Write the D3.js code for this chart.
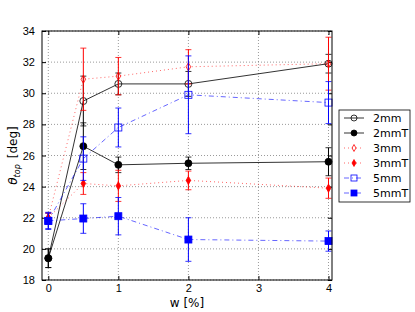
<!DOCTYPE html>
<html>
<head>
<meta charset="utf-8">
<script src="https://cdn.jsdelivr.net/npm/d3@7"></script>
<style>
  body { margin: 0; background: #fff; }
  svg { font-family: "DejaVu Sans", sans-serif; }
</style>
</head>
<body>
<div id="chart"></div>
<script>
// Data
const wValues = [0, 0.5, 1, 2, 4];
const xTicks = [0, 1, 2, 3, 4];
const yTicks = [18, 20, 22, 24, 26, 28, 30, 32, 34];

const s2mm   = [19.4, 29.5, 30.6, 30.6, 31.9];
const e2mm   = [0.6, 1.6, 0.7, 0.8, 0.6];
const s2mmT  = [19.4, 26.6, 25.4, 25.5, 25.6];
const e2mmT  = [0.6, 1.5, 0.5, 0.4, 0.9];
const s3mm   = [22.0, 30.9, 31.1, 31.7, 31.9];
const e3mm   = [0.3, 2.0, 1.2, 1.1, 1.7];
const s3mmT  = [22.0, 24.2, 24.05, 24.4, 23.9];
const e3mmT  = [0.3, 0.7, 1.0, 0.6, 0.65];
const s5mm   = [21.8, 25.8, 27.8, 29.9, 29.4];
const e5mm   = [0.5, 1.4, 1.25, 2.5, 1.35];
const s5mmT  = [21.8, 21.95, 22.1, 20.6, 20.5];
const e5mmT  = [0.55, 0.95, 1.2, 1.4, 0.65];

const seriesNames = ["2mm", "2mmT", "3mm", "3mmT", "5mm", "5mmT"];

const series = [
  { vals: s2mm,  errs: e2mm,  color: "black", dash: null,      marker: "circle",  filled: false },
  { vals: s2mmT, errs: e2mmT, color: "black", dash: null,      marker: "circle",  filled: true },
  { vals: s3mm,  errs: e3mm,  color: "red",   dash: "1,3",     marker: "diamond", filled: false },
  { vals: s3mmT, errs: e3mmT, color: "red",   dash: "1,3",     marker: "diamond", filled: true },
  { vals: s5mm,  errs: e5mm,  color: "blue",  dash: "5,3,1,3", marker: "square",  filled: false },
  { vals: s5mmT, errs: e5mmT, color: "blue",  dash: "5,3,1,3", marker: "square",  filled: true }
];

const width = 415, height = 312;
const mLeft = 42, mRight = 332, mTop = 31, mBottom = 280;

const svg = d3.select("#chart").append("svg")
  .attr("width", width).attr("height", height);

const x = d3.scaleLinear().domain([-0.09, 4.05]).range([mLeft, mRight]);
const y = d3.scaleLinear().domain([18, 34]).range([mBottom, mTop]);

// grid
svg.append("g").selectAll("line").data(xTicks).enter().append("line")
  .attr("x1", d => x(d)).attr("x2", d => x(d))
  .attr("y1", mTop).attr("y2", mBottom)
  .attr("stroke", "#555").attr("stroke-width", 0.6).attr("stroke-dasharray", "1,2");
svg.append("g").selectAll("line").data(yTicks).enter().append("line")
  .attr("x1", mLeft).attr("x2", mRight)
  .attr("y1", d => y(d)).attr("y2", d => y(d))
  .attr("stroke", "#555").attr("stroke-width", 0.6).attr("stroke-dasharray", "1,2");

// axes (ticks inward)
svg.append("g").attr("transform", `translate(0,${mBottom})`)
  .call(d3.axisBottom(x).tickValues(xTicks).tickFormat(d3.format("d"))
    .tickSizeInner(-4).tickSizeOuter(0).tickPadding(4))
  .call(g => g.select(".domain").remove())
  .call(g => g.selectAll("text").attr("font-size", 11).attr("fill", "#000"));
svg.append("g").attr("transform", `translate(0,${mTop})`)
  .call(d3.axisTop(x).tickValues(xTicks).tickSizeInner(-4).tickSizeOuter(0).tickFormat(""))
  .call(g => g.select(".domain").remove());
svg.append("g").attr("transform", `translate(${mLeft},0)`)
  .call(d3.axisLeft(y).tickValues(yTicks).tickSizeInner(-4).tickSizeOuter(0).tickPadding(7))
  .call(g => g.select(".domain").remove())
  .call(g => g.selectAll("text").attr("font-size", 11).attr("fill", "#000"));
svg.append("g").attr("transform", `translate(${mRight},0)`)
  .call(d3.axisRight(y).tickValues(yTicks).tickSizeInner(-4).tickSizeOuter(0).tickFormat(""))
  .call(g => g.select(".domain").remove());

const line = d3.line().x((d, i) => x(wValues[i])).y(d => y(d));

function drawMarker(g, m, cx, cy, color, filled, size) {
  const fill = filled ? color : "none";
  if (m === "circle") {
    g.append("circle").attr("cx", cx).attr("cy", cy).attr("r", size * 0.5)
      .attr("fill", fill).attr("stroke", color).attr("stroke-width", 0.8);
  } else if (m === "diamond") {
    const w = size * 0.33, h = size * 0.58;
    g.append("path")
      .attr("d", `M${cx},${cy - h}L${cx + w},${cy}L${cx},${cy + h}L${cx - w},${cy}Z`)
      .attr("fill", fill).attr("stroke", color).attr("stroke-width", 0.8);
  } else {
    const s = size * 0.5;
    g.append("rect").attr("x", cx - s).attr("y", cy - s).attr("width", 2 * s).attr("height", 2 * s)
      .attr("fill", fill).attr("stroke", color).attr("stroke-width", 0.8);
  }
}

const plot = svg.append("g");
series.forEach(s => {
  const g = plot.append("g");
  g.append("path").datum(s.vals)
    .attr("fill", "none").attr("stroke", s.color).attr("stroke-width", 1)
    .attr("stroke-opacity", s.color === "black" ? 0.8 : 0.6)
    .attr("stroke-dasharray", s.dash)
    .attr("d", line);
  s.vals.forEach((v, i) => {
    const cx = x(wValues[i]);
    const y1 = y(v + s.errs[i]), y2 = y(v - s.errs[i]);
    g.append("line").attr("x1", cx).attr("x2", cx).attr("y1", y1).attr("y2", y2)
      .attr("stroke", s.color).attr("stroke-width", 1);
    [y1, y2].forEach(yy => g.append("line")
      .attr("x1", cx - 3).attr("x2", cx + 3).attr("y1", yy).attr("y2", yy)
      .attr("stroke", s.color).attr("stroke-width", 0.8));
    drawMarker(g, s.marker, cx, y(v), s.color, s.filled, 7);
  });
});

// frame
svg.append("rect").attr("x", mLeft).attr("y", mTop)
  .attr("width", mRight - mLeft).attr("height", mBottom - mTop)
  .attr("fill", "none").attr("stroke", "#000").attr("stroke-width", 1);

// axis labels
svg.append("text").attr("x", (mLeft + mRight) / 2).attr("y", 307)
  .attr("text-anchor", "middle").attr("font-size", 12).text("w [%]");

const yl = svg.append("text")
  .attr("transform", `translate(17,${(mTop + mBottom) / 2}) rotate(-90)`)
  .attr("text-anchor", "middle").attr("font-size", 12);
yl.append("tspan").attr("font-style", "italic").text("θ");
yl.append("tspan").attr("font-style", "italic").attr("font-size", 8).attr("dy", 3).text("top");
yl.append("tspan").attr("dy", -3).attr("dx", 6).text("[deg]");

// legend
const lg = svg.append("g").attr("transform", "translate(339,110)");
lg.append("rect").attr("width", 71).attr("height", 92)
  .attr("fill", "#fff").attr("stroke", "#000").attr("stroke-width", 0.8);
series.forEach((s, i) => {
  const yy = 8 + i * 15;
  lg.append("line").attr("x1", 5).attr("x2", 25).attr("y1", yy).attr("y2", yy)
    .attr("stroke", s.color).attr("stroke-width", 1)
    .attr("stroke-opacity", s.color === "black" ? 0.8 : 0.6)
    .attr("stroke-dasharray", s.dash);
  drawMarker(lg, s.marker, 15, yy, s.color, s.filled, 6);
  lg.append("text").attr("x", 34).attr("y", yy + 4)
    .attr("font-size", 11).text(seriesNames[i]);
});
</script>
</body>
</html>
